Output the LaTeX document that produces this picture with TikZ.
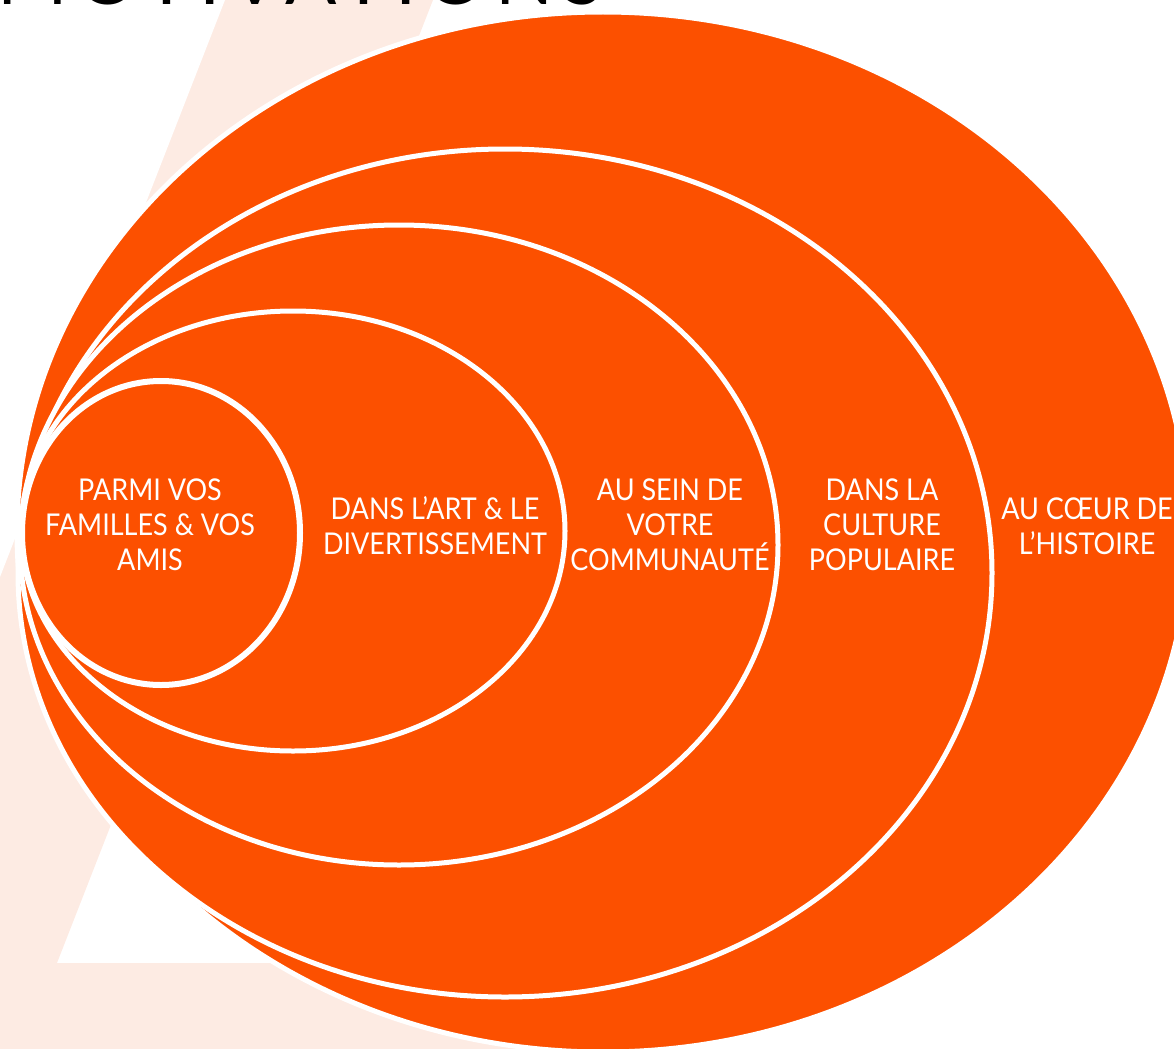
\documentclass[tikz,border=0pt]{standalone}
\usepackage{fontspec}
\newfontfamily\labelfont{Lato}[FakeStretch=0.9]
\newfontfamily\titlefont{Lato}[LetterSpace=12]
\definecolor{orng}{RGB}{252,80,0}
\definecolor{pale}{RGB}{253,235,227}
\tikzset{
  ring/.style={fill=orng, draw=white, line width=3.75pt},
  lbl/.style={text=white, align=center, font=\labelfont\fontsize{22.5}{26.25}\selectfont, inner sep=0pt},
}
\begin{document}
\begin{tikzpicture}[x=0.75pt,y=-0.75pt]
\useasboundingbox (0,0) rectangle (1174,1049);
\begin{scope}
\clip (0,0) rectangle (1174,1049);
% pale background letter
\fill[pale] (225,0) -- (433,0) -- (57,963) -- (600,963) -- (600,1060) -- (-10,1060) -- (-10,0) -- cycle;
\fill[white] (-10,0) -- (225,0) -- (0,577) -- (-10,577) -- cycle;
% title (cut off at top)
\node[anchor=base east, inner sep=0pt, font=\titlefont\fontsize{57}{60}\selectfont] (title) at (604,5) {MOTIVATIONS};
% nested ellipses
\draw[ring] (603,532) ellipse [x radius=586, y radius=520];
\draw[ring] (505,573) ellipse [x radius=487, y radius=424];
\draw[ring] (399,545) ellipse [x radius=379, y radius=320];
\draw[ring] (293,531) ellipse [x radius=272, y radius=220];
\draw[ring, line width=4.5pt] (161,533) ellipse [x radius=139, y radius=152];
\end{scope}
% labels
\node[lbl] (t1) at (150,525) {PARMI VOS\\FAMILLES \& VOS\\AMIS};
\node[lbl] (t2) at (435,526) {DANS L’ART \& LE\\DIVERTISSEMENT};
\node[lbl] (t3) at (670,525) {AU SEIN DE\\VOTRE\\COMMUNAUTÉ};
\node[lbl] (t4) at (882,525) {DANS LA\\CULTURE\\POPULAIRE};
\node[lbl] (t5) at (1087,526) {AU CŒUR DE\\L’HISTOIRE};
\end{tikzpicture}
\end{document}
